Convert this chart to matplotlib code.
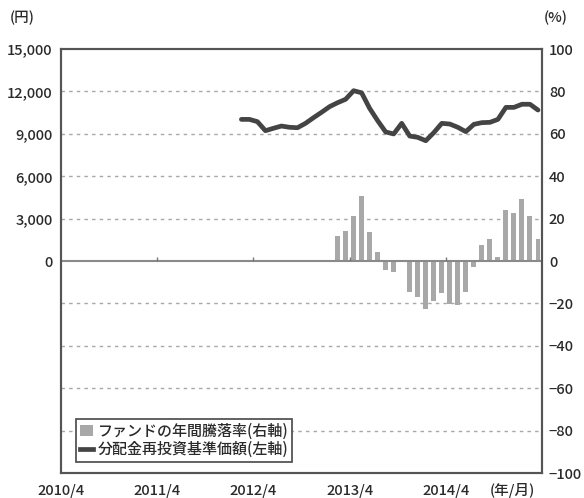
import matplotlib
matplotlib.use("Agg")
import matplotlib.pyplot as plt
from matplotlib.patches import Patch
from matplotlib.lines import Line2D
import numpy as np

plt.rcParams['font.family'] = ['Noto Sans CJK JP', 'DejaVu Sans']
plt.rcParams['font.weight'] = 'medium'

# Month index: 0 = 2010/4
x_tick_pos = [0, 12, 24, 36, 48]
x_tick_labels = ['2010/4', '2011/4', '2012/4', '2013/4', '2014/4']

# 分配金再投資基準価額 (left axis, yen) : 2012/2 .. 2015/3
line_start = 22
line_values = [10020, 10020, 9860, 9220, 9390, 9550, 9460, 9430, 9740, 10140,
               10520, 10920, 11200, 11440, 12050, 11900, 10800, 9930, 9130, 8990,
               9740, 8840, 8750, 8510, 9080, 9740, 9690, 9460, 9150, 9670,
               9790, 9810, 10020, 10870, 10870, 11090, 11090, 10680]

# ファンドの年間騰落率 (right axis, %) : 2013/2 .. 2015/3
bar_start = 34
bar_values = [12.0, 14.1, 21.3, 30.5, 13.8, 4.4, -4.2, -5.3, 0.0, -14.4,
              -16.8, -22.8, -18.7, -15.2, -20.3, -20.8, -14.8, -3.0, 7.5, 10.2,
              1.8, 24.0, 22.5, 29.2, 21.4, 10.2]

left_ticks = [0, 3000, 6000, 9000, 12000, 15000]
right_ticks = [-100, -80, -60, -40, -20, 0, 20, 40, 60, 80, 100]

legend_labels = ['ファンドの年間騰落率(右軸)', '分配金再投資基準価額(左軸)']

text_color = '#2a2a2a'
frame_color = '#555555'
bar_color = '#a8a8a8'
line_color = '#444444'
grid_color = '#a8a8a8'

fig = plt.figure(figsize=(5.84, 4.98), dpi=100)
ax = fig.add_axes([61/584, 1-473/498, 481/584, 424/498])
ax2 = ax.twinx()

line_x = np.arange(len(line_values)) + line_start + 0.5
bar_x = np.arange(len(bar_values)) + bar_start + 0.5

ax2.bar(bar_x, bar_values, width=0.62, color=bar_color, zorder=2)
ax2.set_ylim(-100, 100)
ax2.set_yticks(right_ticks)
ax2.set_yticklabels([str(v).replace('-', '−') for v in right_ticks])

for v in right_ticks:
    if v not in (-100, 0, 100):
        ax2.axhline(v, color=grid_color, lw=1.0, ls=(0, (2.5, 3)), zorder=1)
ax2.axhline(0, color='#8a8a8a', lw=1.5, zorder=3)
for p in x_tick_pos[1:]:
    ax2.vlines(p, 0, 1.8, color='#777777', lw=1.0, zorder=3)

ax.plot(line_x, line_values, color=line_color, lw=3.4, solid_joinstyle='round',
        solid_capstyle='round', zorder=5)
ax.set_ylim(-15000, 15000)
ax.set_xlim(0, 60)
ax.set_yticks(left_ticks)
ax.set_yticklabels([f'{v:,}' for v in left_ticks])
ax.set_xticks(x_tick_pos)
ax.set_xticklabels(x_tick_labels)

ax.set_zorder(ax2.get_zorder() + 1)
ax.patch.set_visible(False)

for a in (ax, ax2):
    for s in a.spines.values():
        s.set_color(frame_color)
        s.set_linewidth(1.5)
    a.tick_params(length=0, colors=text_color, labelsize=10.5)
ax.tick_params(axis='y', pad=6)
ax.tick_params(axis='x', pad=8)
ax2.tick_params(axis='y', pad=5)

handles = [Patch(facecolor=bar_color, edgecolor='none'),
           Line2D([0], [0], color=line_color, lw=3.4)]
leg = ax.legend(handles, legend_labels, loc='lower left',
                bbox_to_anchor=(0.031, 0.026), borderaxespad=0,
                prop={'size': 10.8, 'weight': 'medium'}, frameon=True, fancybox=False,
                framealpha=1, edgecolor=frame_color, handlelength=0.9, handleheight=0.7,
                handletextpad=0.3, borderpad=0.25, labelspacing=0.1)
leg.get_frame().set_linewidth(1.3)
for t in leg.get_texts():
    t.set_color(text_color)

fig.text(22/584, 1-18/498, '(円)', ha='center', va='center', fontsize=10.5, color=text_color)
fig.text(556/584, 1-18/498, '(%)', ha='center', va='center', fontsize=10.5, color=text_color)
fig.text(512/584, 1-490/498, '(年/月)', ha='center', va='center', fontsize=10.5, color=text_color)

fig.savefig('out.png', dpi=100)
